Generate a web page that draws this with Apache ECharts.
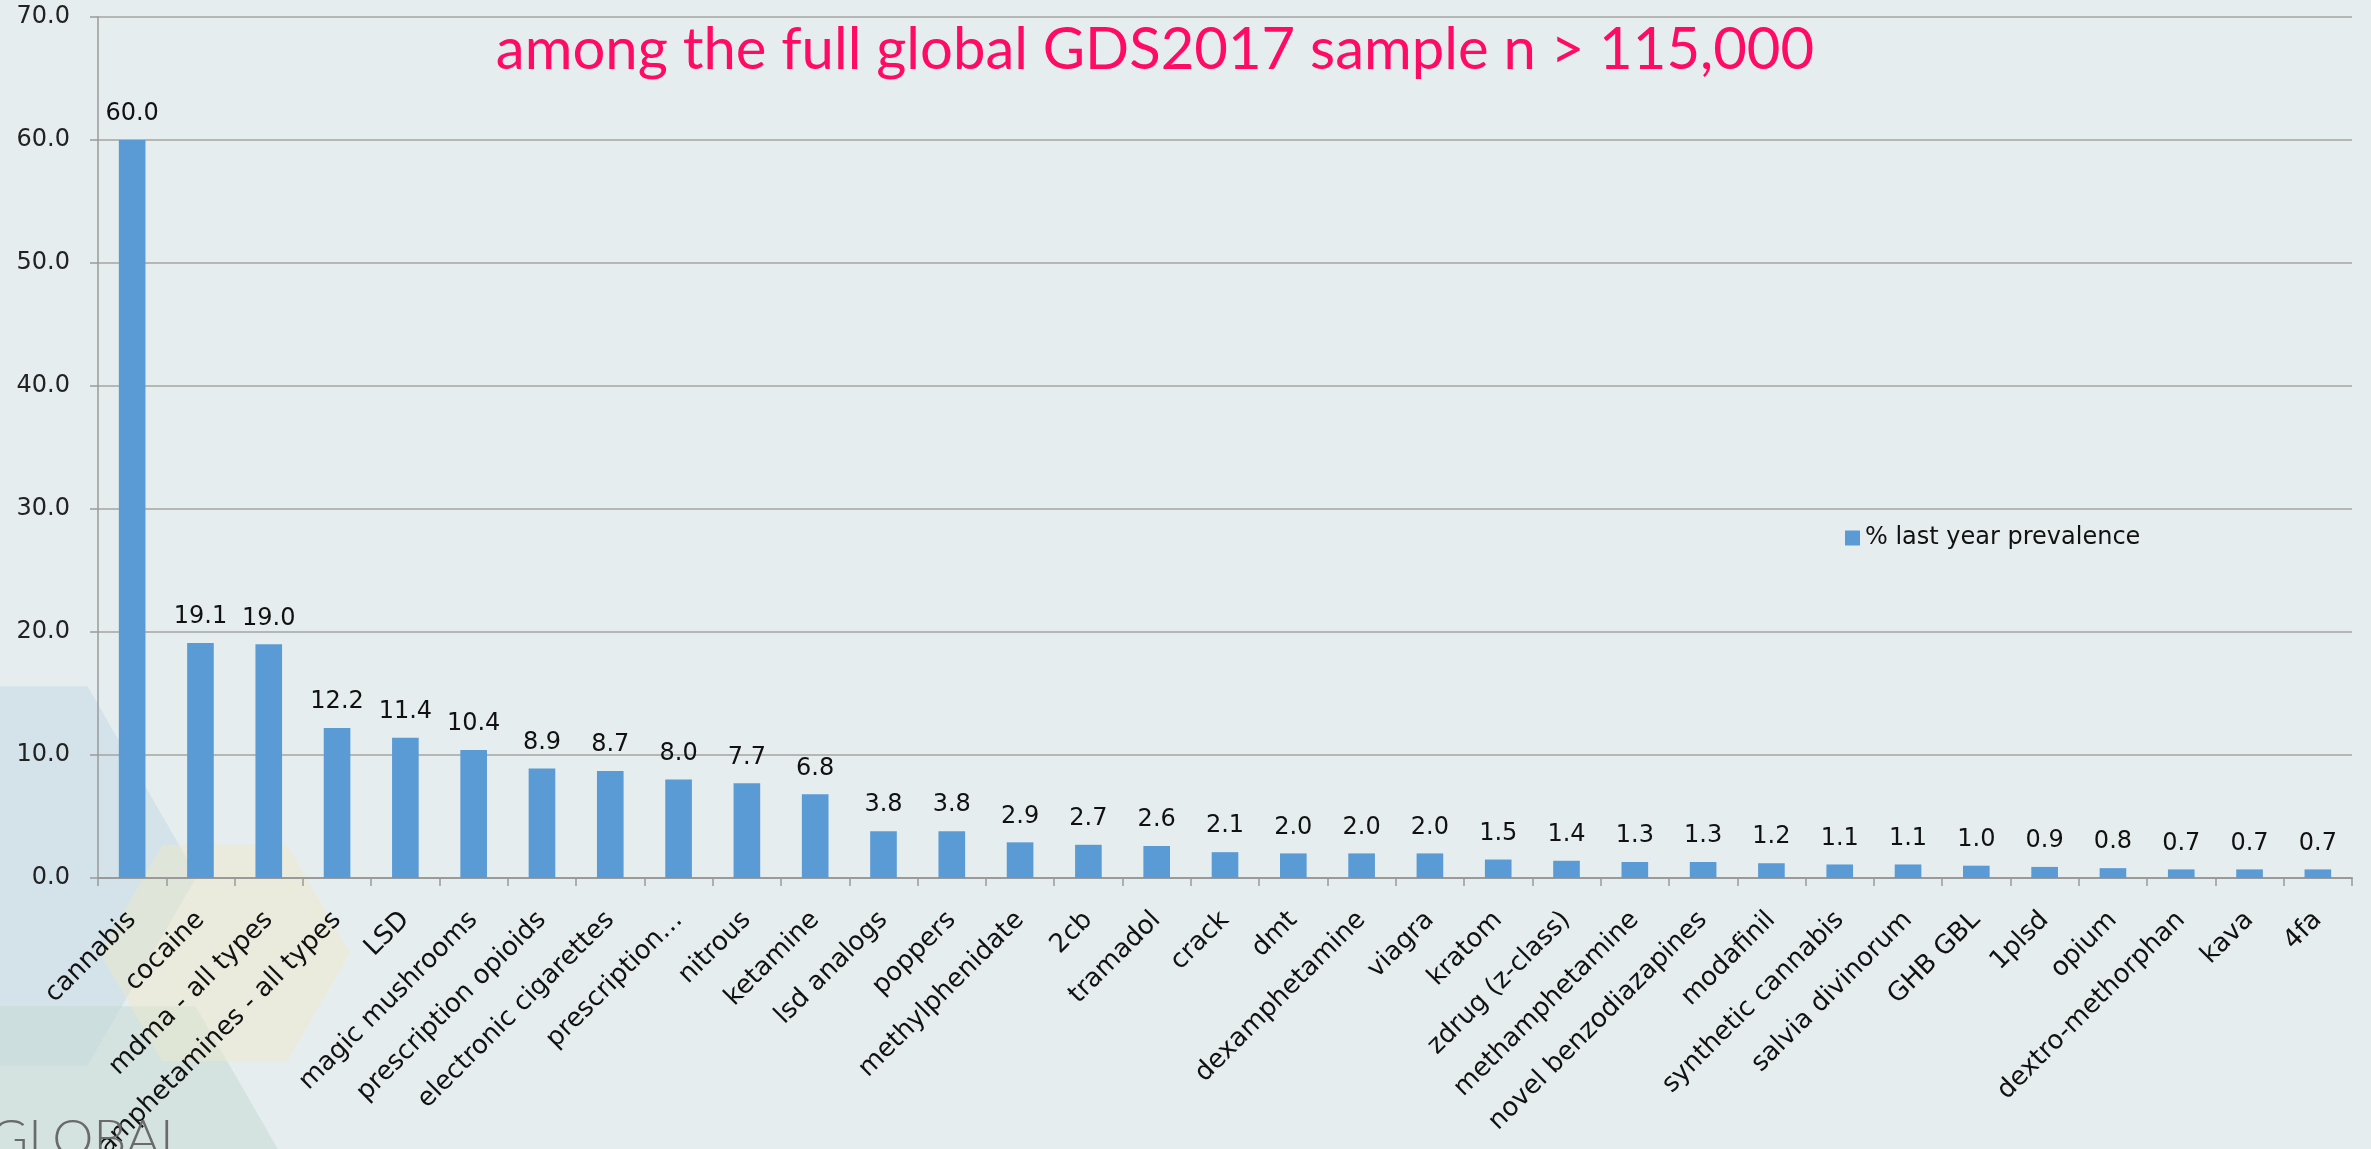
<!DOCTYPE html>
<html>
<head>
<meta charset="utf-8">
<script src="https://cdn.jsdelivr.net/npm/echarts@6/dist/echarts.min.js"></script>
<style>
  html, body { margin: 0; padding: 0; background: #e5edef; }
  #chart { width: 2371px; height: 1149px; }
</style>
</head>
<body>
<div id="chart"></div>
<script>
// categories and values
var drugs = ['cannabis', 'cocaine', 'mdma - all types', 'amphetamines - all types', 'LSD',
  'magic mushrooms', 'prescription opioids', 'electronic cigarettes', 'prescription…', 'nitrous',
  'ketamine', 'lsd analogs', 'poppers', 'methylphenidate', '2cb', 'tramadol', 'crack', 'dmt',
  'dexamphetamine', 'viagra', 'kratom', 'zdrug (z-class)', 'methamphetamine', 'novel benzodiazapines',
  'modafinil', 'synthetic cannabis', 'salvia divinorum', 'GHB GBL', '1plsd', 'opium',
  'dextro-methorphan', 'kava', '4fa'];
var lastYear = [60.0, 19.1, 19.0, 12.2, 11.4, 10.4, 8.9, 8.7, 8.0, 7.7,
  6.8, 3.8, 3.8, 2.9, 2.7, 2.6, 2.1, 2.0,
  2.0, 2.0, 1.5, 1.4, 1.3, 1.3,
  1.2, 1.1, 1.1, 1.0, 0.9, 0.8,
  0.7, 0.7, 0.7];
var seriesName = '% last year prevalence';
var yMin = 0, yMax = 70, yStep = 10;
var titleText = 'among the full global GDS2017 sample n > 115,000';

// flat-top hexagon points for the background decoration
function hexagon(cx, cy, s) {
  var h = s * Math.sqrt(3) / 2;
  return [[cx - s, cy], [cx - s / 2, cy - h], [cx + s / 2, cy - h],
          [cx + s, cy], [cx + s / 2, cy + h], [cx - s / 2, cy + h]];
}

var myChart = echarts.init(document.getElementById('chart'));
var option = {
  backgroundColor: '#e5edef',
  animation: false,
  title: {
    text: titleText,
    left: 1150,
    textAlign: 'center',
    top: 16,
    textStyle: {
      fontFamily: 'Lato',
      fontSize: 58,
      fontWeight: 'normal',
      color: '#ff0a64'
    }
  },
  graphic: [
    { type: 'polygon', z: 0, silent: true, shape: { points: hexagon(-22, 876, 219) },
      style: { fill: 'rgba(190,212,226,0.45)' } },
    { type: 'polygon', z: 0, silent: true, shape: { points: hexagon(86, 1196, 219) },
      style: { fill: 'rgba(196,218,210,0.5)' } },
    { type: 'polygon', z: 0, silent: true, shape: { points: hexagon(225, 953, 125) },
      style: { fill: 'rgba(240,232,200,0.45)' } },
    { type: 'text', z: 1, silent: true, left: -10, top: 1113,
      style: { text: 'GLOBAL', fontFamily: 'Lato', fontWeight: 300, fontSize: 52, fill: '#6a6a6a' } }
  ],
  legend: {
    data: [seriesName],
    left: 1840,
    top: 521,
    icon: 'rect',
    itemWidth: 15,
    itemHeight: 15,
    textStyle: {
      fontFamily: 'DejaVu Sans',
      fontSize: 24,
      color: '#111'
    }
  },
  grid: {
    left: 98,
    right: 19,
    top: 17,
    bottom: 271,
    containLabel: false,
    outerBoundsMode: 'none'
  },
  xAxis: {
    type: 'category',
    data: drugs,
    axisLine: { lineStyle: { color: '#9a9a9a', width: 2 } },
    axisTick: { show: true, length: 8, lineStyle: { color: '#9a9a9a', width: 1.5 } },
    axisLabel: {
      interval: 0,
      rotate: 45,
      margin: 38,
      fontFamily: 'DejaVu Sans',
      fontSize: 26,
      color: '#111'
    }
  },
  yAxis: {
    type: 'value',
    min: yMin,
    max: yMax,
    interval: yStep,
    axisLine: { show: true, lineStyle: { color: '#9a9a9a', width: 1.5 } },
    axisTick: { show: true, length: 8, lineStyle: { color: '#9a9a9a', width: 1.5 } },
    axisLabel: {
      margin: 28,
      fontFamily: 'DejaVu Sans',
      fontSize: 24,
      color: '#222',
      formatter: function (v) { return v.toFixed(1); }
    },
    splitLine: { show: true, lineStyle: { color: '#a4a4a4', width: 1.5 } }
  },
  series: [
    {
      name: seriesName,
      type: 'bar',
      data: lastYear,
      barWidth: '39%',
      itemStyle: { color: '#5b9bd5' },
      label: {
        show: true,
        position: 'top',
        distance: 14,
        fontFamily: 'DejaVu Sans',
        fontSize: 24,
        color: '#111',
        formatter: function (p) { return p.value.toFixed(1); }
      }
    }
  ]
};
myChart.setOption(option);
</script>
</body>
</html>
